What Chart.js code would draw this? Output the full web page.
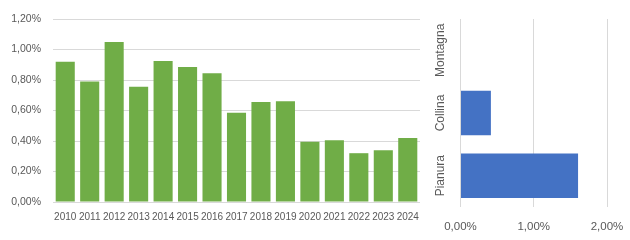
<!DOCTYPE html>
<html>
<head>
<meta charset="utf-8">
<script src="https://cdn.jsdelivr.net/npm/chart.js@4.4.1/dist/chart.umd.min.js"></script>
<style>
  html, body { margin: 0; padding: 0; background: #fff; }
  #wrap { position: relative; width: 630px; height: 240px; }
  #anniBox { position: absolute; left: 0; top: 0; width: 425px; height: 240px; }
  #zoneBox { position: absolute; left: 425px; top: 0; width: 205px; height: 240px; }
</style>
</head>
<body>
<div id="wrap">
  <div id="anniBox"><canvas id="anniChart"></canvas></div>
  <div id="zoneBox"><canvas id="zoneChart"></canvas></div>
</div>
<script>
// dati (valori in %)
const anni = ['2010', '2011', '2012', '2013', '2014', '2015', '2016', '2017', '2018', '2019', '2020', '2021', '2022', '2023', '2024'];
const valoriAnni = [0.92, 0.79, 1.05, 0.755, 0.925, 0.885, 0.845, 0.585, 0.655, 0.66, 0.395, 0.405, 0.32, 0.34, 0.42];

const zone = ['Montagna', 'Collina', 'Pianura'];
const valoriZone = [0, 0.415, 1.605];

const grigioTesto = '#595959';
const grigioGriglia = '#d9d9d9';
const font = 'Liberation Sans';

Chart.defaults.animation = false;
Chart.defaults.color = grigioTesto;

// formato italiano: 0,80%
function percento(v) {
  return v.toFixed(2).replace('.', ',') + '%';
}

new Chart(document.getElementById('anniChart'), {
  type: 'bar',
  data: {
    labels: anni,
    datasets: [{
      data: valoriAnni,
      backgroundColor: '#70ad47',
      barPercentage: 0.78,
      categoryPercentage: 1
    }]
  },
  options: {
    responsive: true,
    maintainAspectRatio: false,
    layout: { padding: { top: 19, right: 5, left: 0, bottom: 0 } },
    plugins: { legend: { display: false }, tooltip: { enabled: false } },
    scales: {
      x: {
        grid: { color: 'transparent', drawTicks: true, tickLength: 9, tickColor: 'transparent' },
        border: { display: false },
        ticks: { padding: 0, autoSkip: false, maxRotation: 0, font: { family: font, size: 10 } },
        afterFit: (s) => { s.height = 38; }
      },
      y: {
        min: 0,
        max: 1.2,
        grid: { color: grigioGriglia, drawTicks: true, tickLength: 12, tickColor: 'transparent' },
        border: { display: false },
        ticks: { stepSize: 0.2, padding: 0, font: { family: font, size: 10.5 }, callback: (v) => percento(v) },
        afterFit: (s) => { s.width = 53; }
      }
    }
  }
});

// etichette ruotate per l'asse delle zone
const etichetteRuotate = {
  id: 'etichetteRuotate',
  afterDraw(chart) {
    const ctx = chart.ctx;
    const scala = chart.scales.y;
    ctx.save();
    ctx.fillStyle = grigioTesto;
    ctx.font = '12px "' + font + '"';
    ctx.textAlign = 'center';
    ctx.textBaseline = 'middle';
    zone.forEach((z, i) => {
      ctx.save();
      ctx.translate(16, scala.getPixelForTick(i));
      ctx.rotate(-Math.PI / 2);
      ctx.fillText(z, 0, 0);
      ctx.restore();
    });
    ctx.restore();
  }
};

new Chart(document.getElementById('zoneChart'), {
  type: 'bar',
  data: {
    labels: zone,
    datasets: [{
      data: valoriZone,
      backgroundColor: '#4472c4',
      barPercentage: 0.71,
      categoryPercentage: 1
    }]
  },
  options: {
    indexAxis: 'y',
    responsive: true,
    maintainAspectRatio: false,
    layout: { padding: { top: 19, right: 23, left: 0, bottom: 0 } },
    plugins: { legend: { display: false }, tooltip: { enabled: false } },
    scales: {
      x: {
        min: 0,
        max: 2,
        grid: { color: grigioGriglia, drawTicks: true, tickLength: 13, tickColor: 'transparent' },
        border: { display: false },
        ticks: { stepSize: 1, padding: 0, maxRotation: 0, font: { family: font, size: 11.5 }, callback: (v) => percento(v) },
        afterFit: (s) => { s.height = 33; }
      },
      y: {
        grid: { display: false },
        border: { display: false },
        ticks: { display: false },
        afterFit: (s) => { s.width = 35.5; }
      }
    }
  },
  plugins: [etichetteRuotate]
});
</script>
</body>
</html>
